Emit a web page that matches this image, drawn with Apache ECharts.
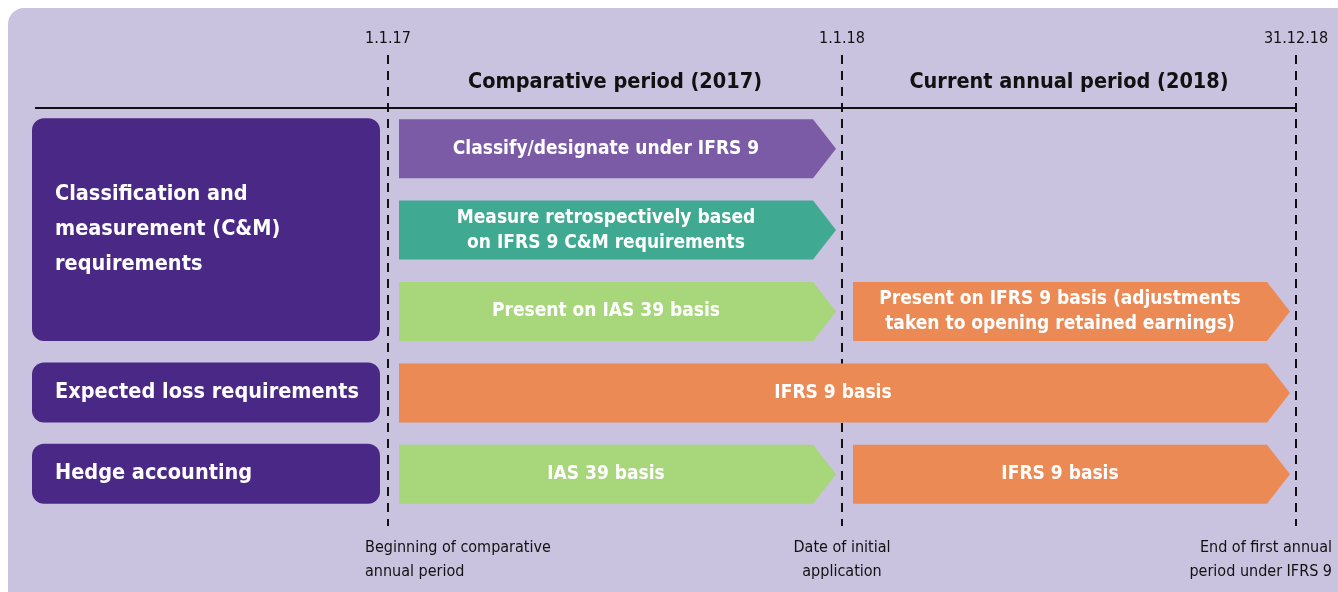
<!DOCTYPE html>
<html>
<head>
<meta charset="utf-8">
<script src="https://cdn.jsdelivr.net/npm/echarts@6/dist/echarts.min.js"></script>
<style>
  html, body { margin: 0; padding: 0; background: #fff; }
  #main { width: 1338px; height: 592px; }
</style>
</head>
<body>
<div id="main"></div>
<script>
// rows of the timeline (top to bottom)
const rowNames = ['cm1', 'cm2', 'cm3', 'expectedLoss', 'hedge'];

// left-hand requirement boxes
const groupLabels = ['Classification and\nmeasurement (C&M)\nrequirements', 'Expected loss requirements', 'Hedge accounting'];
const groupFirstRow = [0, 3, 4];
const groupLastRow = [2, 3, 4];

// key dates (years from 1.1.17)
const dateValues = [0, 1, 2];
const dateLabels = ['1.1.17', '1.1.18', '31.12.18'];
const dateNotes = ['Beginning of comparative\nannual period', 'Date of initial\napplication', 'End of first annual\nperiod under IFRS 9'];

// periods shown in the header
const periodLabels = ['Comparative period (2017)', 'Current annual period (2018)'];
const periodStart = [0, 1];
const periodEnd = [1, 2];

// arrows
const barRow = [0, 1, 2, 2, 3, 4, 4];
const barStart = [0, 0, 0, 1, 0, 0, 1];
const barEnd = [1, 1, 1, 2, 2, 1, 2];
const barText = [
  'Classify/designate under IFRS 9',
  'Measure retrospectively based\non IFRS 9 C&M requirements',
  'Present on IAS 39 basis',
  'Present on IFRS 9 basis (adjustments\ntaken to opening retained earnings)',
  'IFRS 9 basis',
  'IAS 39 basis',
  'IFRS 9 basis'
];
const barKind = ['classify', 'measure', 'ias', 'ifrs', 'ifrs', 'ias', 'ifrs'];

const kindColor = {
  classify: '#7b5aa6',
  measure: '#3faa91',
  ias: '#a8d67b',
  ifrs: '#ec8a55'
};

const FONT = '"Liberation Sans Narrow", "DejaVu Sans Condensed", "Roboto Condensed", sans-serif';

const chart = echarts.init(document.getElementById('main'));

const barData = barRow.map((r, i) => [barStart[i], barEnd[i], r, barText[i], barKind[i]]);
const groupData = groupLabels.map((t, i) => [0, groupFirstRow[i], groupLastRow[i], t]);
const dateData = dateValues.map((v, i) => [v, 0, dateLabels[i], dateNotes[i], i]);
const periodData = periodLabels.map((t, i) => [periodStart[i], periodEnd[i], 0, t]);

function renderBar(params, api) {
  const s = api.coord([api.value(0), api.value(2)]);
  const e = api.coord([api.value(1), api.value(2)]);
  const h = api.size([0, 1])[1] * 0.725;
  const x0 = s[0] + 11, x1 = e[0] - 6, tip = 23;
  const y0 = s[1] - h / 2, y1 = s[1] + h / 2;
  const kind = barData[params.dataIndex][4];
  return {
    type: 'group',
    children: [
      {
        type: 'polygon',
        shape: { points: [[x0, y0], [x1 - tip, y0], [x1, s[1]], [x1 - tip, y1], [x0, y1]] },
        style: { fill: kindColor[kind] }
      },
      {
        type: 'text',
        x: (x0 + x1 - tip) / 2,
        y: s[1],
        style: {
          text: barData[params.dataIndex][3],
          fill: '#fff',
          font: 'bold 19px ' + FONT,
          align: 'center',
          verticalAlign: 'middle',
          lineHeight: 25
        }
      }
    ]
  };
}

function renderGroup(params, api) {
  const cs = params.coordSys;
  const h = api.size([0, 1])[1] * 0.725;
  const top = api.coord([0, api.value(1)])[1] - h / 2 - 1;
  const bottom = api.coord([0, api.value(2)])[1] + h / 2;
  const x0 = cs.x - 356, x1 = cs.x - 8;
  return {
    type: 'group',
    children: [
      {
        type: 'rect',
        shape: { x: x0, y: top, width: x1 - x0, height: bottom - top, r: 12 },
        style: { fill: '#4a2886' }
      },
      {
        type: 'text',
        x: x0 + 23,
        y: (top + bottom) / 2,
        style: {
          text: groupData[params.dataIndex][3],
          fill: '#fff',
          font: 'bold 21.5px ' + FONT,
          align: 'left',
          verticalAlign: 'middle',
          lineHeight: 35
        }
      }
    ]
  };
}

function renderDate(params, api) {
  const cs = params.coordSys;
  const x = api.coord([api.value(0), 0])[0];
  const i = dateData[params.dataIndex][4];
  const align = i === 0 ? 'left' : (i === dateData.length - 1 ? 'right' : 'center');
  const noteX = align === 'left' ? x - 23 : (align === 'right' ? x + 36 : x);
  return {
    type: 'group',
    children: [
      {
        type: 'line',
        shape: { x1: x, y1: cs.y - 53, x2: x, y2: cs.y + cs.height + 11 },
        style: { stroke: '#111', lineWidth: 2, lineDash: [9, 7] }
      },
      {
        type: 'text',
        x: x,
        y: cs.y - 69,
        style: {
          text: dateData[params.dataIndex][2],
          fill: '#111',
          font: '16px ' + FONT,
          align: 'center',
          verticalAlign: 'middle'
        }
      },
      {
        type: 'text',
        x: noteX,
        y: cs.y + cs.height + 45,
        style: {
          text: dateData[params.dataIndex][3],
          fill: '#111',
          font: '16px ' + FONT,
          align: align,
          verticalAlign: 'middle',
          lineHeight: 24
        }
      }
    ]
  };
}

function renderPeriod(params, api) {
  const cs = params.coordSys;
  const a = api.coord([api.value(0), 0])[0];
  const b = api.coord([api.value(1), 0])[0];
  return {
    type: 'text',
    x: (a + b) / 2,
    y: cs.y - 26,
    style: {
      text: periodData[params.dataIndex][3],
      fill: '#111',
      font: 'bold 21.5px ' + FONT,
      align: 'center',
      verticalAlign: 'middle'
    }
  };
}

chart.setOption({
  animation: false,
  graphic: [
    {
      type: 'rect',
      z: 0,
      shape: { x: 8, y: 8, width: 1350, height: 600, r: 16 },
      style: { fill: '#c9c3df' }
    },
    {
      type: 'line',
      z: 1,
      shape: { x1: 35, y1: 108, x2: 1297, y2: 108 },
      style: { stroke: '#111', lineWidth: 2 }
    }
  ],
  grid: { left: 388, right: 42, top: 108, bottom: 77 },
  xAxis: { type: 'value', min: 0, max: 2, show: false },
  yAxis: { type: 'category', data: rowNames, inverse: true, show: false },
  series: [
    { type: 'custom', renderItem: renderDate, data: dateData, encode: { x: 0, y: 1 }, z: 2 },
    { type: 'custom', renderItem: renderPeriod, data: periodData, encode: { x: [0, 1], y: 2 }, z: 2 },
    { type: 'custom', renderItem: renderGroup, data: groupData, encode: { x: 0, y: [1, 2] }, z: 3 },
    { type: 'custom', renderItem: renderBar, data: barData, encode: { x: [0, 1], y: 2 }, z: 3 }
  ]
});
</script>
</body>
</html>
